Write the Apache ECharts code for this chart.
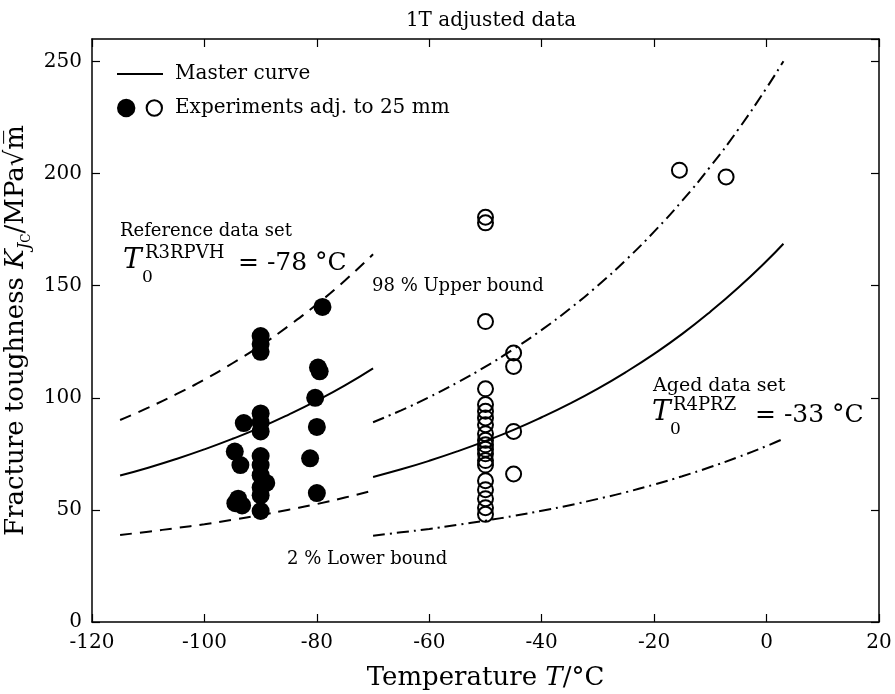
<!DOCTYPE html>
<html>
<head>
<meta charset="utf-8">
<script src="https://cdn.jsdelivr.net/npm/echarts@6/dist/echarts.min.js"></script>
<style>html,body{margin:0;padding:0;background:#fff}#c{width:895px;height:694px}</style>
</head>
<body>
<div id="c"></div>
<script>
// ---- data ----
const refCurveT = [-115, -110, -105, -100, -95, -90, -85, -80, -75, -70];
const refMaster = [65.3, 68.8, 72.7, 77.0, 81.7, 86.8, 92.5, 98.7, 105.5, 113.1];
const refUpper  = [90.1, 95.6, 101.6, 108.1, 115.4, 123.3, 132.1, 141.7, 152.3, 164.0];
const refLower  = [38.8, 40.3, 41.9, 43.6, 45.6, 47.7, 50.1, 52.6, 55.5, 58.6];

const agedCurveT = [-70, -65, -60, -55, -50, -45, -40, -35, -30, -25, -20, -15, -10, -5, 0, 3];
const agedMaster = [64.7, 68.1, 71.9, 76.1, 80.7, 85.7, 91.3, 97.4, 104.1, 111.5, 119.6, 128.5, 138.4, 149.2, 161.0, 168.7];
const agedUpper  = [89.1, 94.4, 100.3, 106.8, 113.9, 121.7, 130.3, 139.7, 150.1, 161.5, 174.1, 187.9, 203.1, 219.8, 238.2, 250.1];
const agedLower  = [38.5, 40.0, 41.5, 43.3, 45.2, 47.3, 49.6, 52.1, 54.9, 57.9, 61.3, 65.0, 69.1, 73.6, 78.5, 81.7];

const refExpT = [-79, -90, -90, -90, -79.8, -79.5, -80.3, -93, -90, -90, -90, -80, -94.6, -90, -90, -93.6, -81.2, -89, -90, -90, -90, -80, -94.5, -93.3, -94, -90];
const refExpK = [140.5, 127.5, 124, 120.5, 113.5, 111.8, 100, 88.7, 93, 89, 85, 87, 76, 74, 70, 70, 73, 62, 65.5, 60, 56.5, 57.5, 53, 52, 55, 49.5];

const agedExpT = [-50, -50, -50, -50, -50, -50, -50, -50, -50, -50, -50, -50, -50, -50, -50, -50, -50, -50, -50, -50, -45, -45, -45, -45, -15.5, -7.2];
const agedExpK = [180.5, 178, 134, 104, 97, 94, 91, 88, 84, 81, 79, 77, 75, 72, 70, 63, 59, 55, 51, 48, 120, 114, 85, 66, 201.5, 198.5];

const xTicks = { min: -120, max: 20, interval: 20 };
const yTicks = { min: 0, max: 260, interval: 50 };

// ---- helpers ----
const FF = '"DejaVu Serif", "Liberation Serif", serif';
const zip = (a, b) => a.map((v, i) => [v, b[i]]);

const axisBase = {
  axisLine: { show: true, onZero: false, lineStyle: { color: '#000', width: 1.5 } },
  axisTick: { show: true, inside: true, length: 8, lineStyle: { color: '#000', width: 1.2 } },
  splitLine: { show: false }
};

function lineSeries(name, xs, ys, type) {
  return {
    type: 'line', name: name, data: zip(xs, ys), smooth: true,
    showSymbol: false, symbol: 'none', silent: true, z: 3,
    lineStyle: { color: '#000', width: 2, type: type },
    itemStyle: { color: '#000' }
  };
}

function txt(text, x, y, size, extra) {
  return {
    type: 'text', x: x, y: y, silent: true, z: 100,
    style: Object.assign({
      text: text, fill: '#000', fontFamily: FF, fontSize: size,
      align: 'left', verticalAlign: 'middle',
      textAlign: 'left', textVerticalAlign: 'middle'
    }, extra || {})
  };
}

const chart = echarts.init(document.getElementById('c'), null, { renderer: 'canvas' });

const option = {
  backgroundColor: '#fff',
  animation: false,
  title: {
    text: '1T adjusted data', left: 486, top: 6, textAlign: 'center',
    textStyle: { fontFamily: FF, fontSize: 20, fontWeight: 'normal', color: '#000' }
  },
  grid: { left: 92, right: 16, top: 39, bottom: 72, containLabel: false, outerBoundsMode: 'none' },
  legend: [
    {
      left: 112, top: 59, itemWidth: 46, itemHeight: 20, selectedMode: false,
      textStyle: { fontFamily: FF, fontSize: 20, color: '#000', padding: [0, 0, 0, 7] },
      data: [{ name: 'Master curve', icon: 'path://M0,0H46V2H0Z', itemStyle: { color: '#000', borderWidth: 0 } }]
    },
    {
      left: 112, top: 93, itemWidth: 46, itemHeight: 20, selectedMode: false,
      textStyle: { fontFamily: FF, fontSize: 20, color: '#000', padding: [0, 0, 0, 7] },
      data: [{
        name: 'Experiments adj. to 25 mm',
        icon: 'path://M0,9a9,9 0 1,0 18,0a9,9 0 1,0 -18,0ZM28,9a8.5,8.5 0 1,0 17,0a8.5,8.5 0 1,0 -17,0ZM30,9a6.5,6.5 0 1,1 13,0a6.5,6.5 0 1,1 -13,0Z',
        itemStyle: { color: '#000', borderWidth: 0 }
      }]
    }
  ],
  xAxis: [
    Object.assign({}, axisBase, {
      type: 'value', position: 'bottom', min: xTicks.min, max: xTicks.max, interval: xTicks.interval,
      axisLabel: { show: true, margin: 11, color: '#000', fontFamily: FF, fontSize: 20 },
      name: 'Temperature {i|T}/°C', nameLocation: 'middle', nameGap: 43,
      nameTextStyle: {
        fontFamily: FF, fontSize: 26, color: '#000',
        rich: { i: { fontFamily: FF, fontSize: 26, fontStyle: 'italic', color: '#000' } }
      }
    }),
    Object.assign({}, axisBase, {
      type: 'value', position: 'top', min: xTicks.min, max: xTicks.max, interval: xTicks.interval,
      axisLabel: { show: false }
    })
  ],
  yAxis: [
    Object.assign({}, axisBase, {
      type: 'value', position: 'left', min: yTicks.min, max: yTicks.max, interval: yTicks.interval,
      axisLabel: { show: true, margin: 10, color: '#000', fontFamily: FF, fontSize: 20, showMaxLabel: false },
      name: 'Fracture toughness {i|K}{s|J}{ss|C}/MPa√{o|m\u0305}', nameLocation: 'middle', nameGap: 48,
      nameTextStyle: {
        fontFamily: FF, fontSize: 26, color: '#000', lineHeight: 34,
        rich: {
          i: { fontFamily: FF, fontSize: 26, fontStyle: 'italic', color: '#000', lineHeight: 34 },
          s: { fontFamily: FF, fontSize: 17, fontStyle: 'italic', color: '#000', lineHeight: 20, verticalAlign: 'bottom' },
          ss: { fontFamily: FF, fontSize: 12, color: '#000', lineHeight: 13, verticalAlign: 'bottom' },
          o: { fontFamily: FF, fontSize: 26, color: '#000', lineHeight: 34 }
        }
      }
    }),
    Object.assign({}, axisBase, {
      type: 'value', position: 'right', min: yTicks.min, max: yTicks.max, interval: yTicks.interval,
      axisLabel: { show: false }
    })
  ],
  series: [
    lineSeries('Master curve', refCurveT, refMaster, 'solid'),
    lineSeries('Upper bound (reference)', refCurveT, refUpper, [12, 8]),
    lineSeries('Lower bound (reference)', refCurveT, refLower, [12, 8]),
    lineSeries('Master curve', agedCurveT, agedMaster, 'solid'),
    lineSeries('Upper bound (aged)', agedCurveT, agedUpper, [12, 5, 2, 5]),
    lineSeries('Lower bound (aged)', agedCurveT, agedLower, [12, 5, 2, 5]),
    {
      type: 'scatter', name: 'Experiments adj. to 25 mm', data: zip(refExpT, refExpK),
      symbol: 'circle', symbolSize: 18, silent: true, z: 5,
      itemStyle: { color: '#000', opacity: 1 }
    },
    {
      type: 'scatter', name: 'Experiments adj. to 25 mm', data: zip(agedExpT, agedExpK),
      symbol: 'circle', symbolSize: 15, silent: true, z: 5,
      itemStyle: { color: 'rgba(0,0,0,0)', borderColor: '#000', borderWidth: 2, opacity: 1 }
    }
  ],
  graphic: [
    txt('Reference data set', 120, 231, 18),
    txt('T', 123, 261, 28, { fontStyle: 'italic' }),
    txt('R3RPVH', 145, 253, 18),
    txt('0', 142, 278, 17),
    txt('= -78 °C', 238, 263, 25),
    txt('98 % Upper bound', 372, 286, 18),
    txt('2 % Lower bound', 287, 559, 18),
    txt('Aged data set', 653, 386, 19),
    txt('T', 652, 413, 28, { fontStyle: 'italic' }),
    txt('R4PRZ', 673, 405, 18),
    txt('0', 670, 430, 17),
    txt('= -33 °C', 755, 415, 25)
  ]
};

chart.setOption(option);
</script>
</body>
</html>
